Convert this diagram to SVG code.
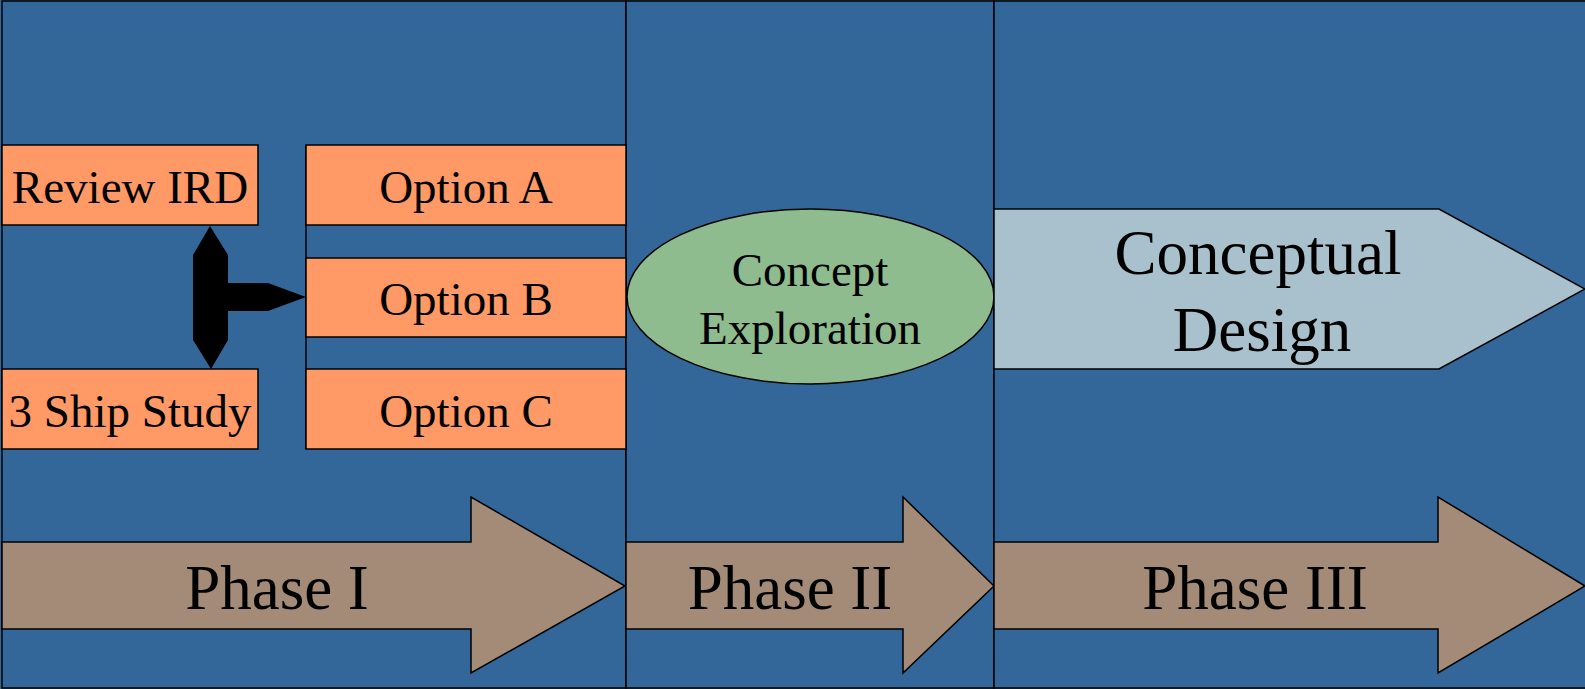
<svg xmlns="http://www.w3.org/2000/svg" width="1585" height="689" viewBox="0 0 1585 689">
  <style>
    .lane { fill: #336699; stroke: #000; stroke-width: 1.5; }
    .task { fill: #FF9966; stroke: #000; stroke-width: 1.5; }
    .phase { fill: #A38B78; stroke: #000; stroke-width: 1.5; stroke-linejoin: miter; }
    .concept { fill: #8FBC8F; stroke: #000; stroke-width: 1.5; }
    .design { fill: #A8C1CC; stroke: #000; stroke-width: 1.5; }
    text { font-family: "Liberation Serif", "Times New Roman", serif; fill: #000; text-anchor: middle; }
    .t47 { font-size: 47px; }
    .t63 { font-size: 63px; }
  </style>

  <rect x="0" y="0" width="1585" height="689" fill="#336699"/>

  <!-- swim lanes -->
  <g id="lanes">
    <rect class="lane" x="2" y="1" width="624" height="687"/>
    <rect class="lane" x="626" y="1" width="368" height="687"/>
    <rect class="lane" x="994" y="1" width="600" height="687"/>
  </g>

  <!-- phase arrows -->
  <g id="phase-1">
    <polygon class="phase" points="2,542 471,542 471,497 625,586 471,673 471,629 2,629"/>
    <text class="t63" x="277" y="609">Phase I</text>
  </g>
  <g id="phase-2">
    <polygon class="phase" points="626,542 903,542 903,497 994,586 903,673 903,629 626,629"/>
    <text class="t63" x="790" y="609">Phase II</text>
  </g>
  <g id="phase-3">
    <polygon class="phase" points="994,542 1438,542 1438,497 1585,586 1438,673 1438,629 994,629"/>
    <text class="t63" x="1255" y="609">Phase III</text>
  </g>

  <!-- phase I tasks -->
  <g id="review-ird">
    <rect class="task" x="2" y="145" width="256" height="80"/>
    <text class="t47" x="130" y="203">Review IRD</text>
  </g>
  <g id="ship-study">
    <rect class="task" x="2" y="369" width="256" height="80"/>
    <text class="t47" x="130" y="427">3 Ship Study</text>
  </g>

  <g id="options">
    <line x1="306" y1="145" x2="306" y2="449" stroke="#000" stroke-width="1.5"/>
    <g id="option-a">
      <rect class="task" x="306" y="145" width="320" height="80"/>
      <text class="t47" x="466" y="203">Option A</text>
    </g>
    <g id="option-b">
      <rect class="task" x="306" y="258" width="320" height="79"/>
      <text class="t47" x="466" y="315">Option B</text>
    </g>
    <g id="option-c">
      <rect class="task" x="306" y="369" width="320" height="80"/>
      <text class="t47" x="466" y="427">Option C</text>
    </g>
  </g>

  <!-- phase II -->
  <g id="concept-exploration">
    <ellipse class="concept" cx="810.5" cy="296.5" rx="183.5" ry="87.5"/>
    <text class="t47" x="810" y="286">Concept</text>
    <text class="t47" x="810" y="344">Exploration</text>
  </g>

  <!-- phase III -->
  <g id="conceptual-design">
    <polygon class="design" points="994,209 1439,209 1585,289 1439,369 994,369"/>
    <text class="t63" x="1258" y="274">Conceptual</text>
    <text class="t63" x="1262" y="351">Design</text>
  </g>

  <!-- connectors -->
  <g id="connectors">
    <polygon fill="#000" points="210,226 228,255 228,283 268,283 306,297 268,311 228,311 228,340 211,369 193,340 193,255"/>
  </g>
</svg>
